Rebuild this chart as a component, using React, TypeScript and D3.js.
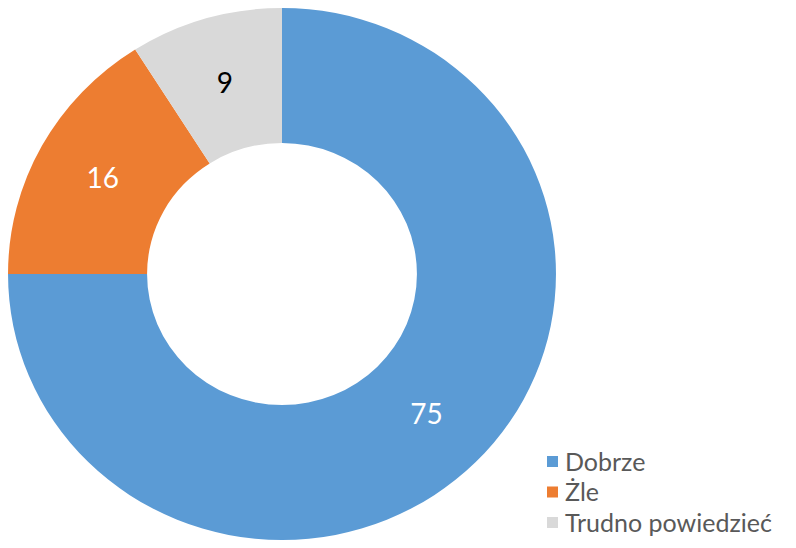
import React, {useEffect, useRef} from 'react';
import * as d3 from 'd3';

// chart data
const categories = ['Dobrze', 'Żle', 'Trudno powiedzieć'];
const values = [75, 16, 9];
const colors = ['#5B9BD5', '#ED7D31', '#D9D9D9'];
const labelColors = ['#ffffff', '#ffffff', '#000000'];

const WIDTH = 796;
const HEIGHT = 548;

export default function App() {
  const svgRef = useRef<SVGSVGElement>(null);

  useEffect(() => {
    if (!svgRef.current) return;
    const svg = d3.select(svgRef.current);
    svg.selectAll('*').remove();

    const cx = 282;
    const cy = 274;
    const outer = 266;
    const inner = 131;
    const sx = 1.03; // the original is slightly stretched horizontally

    const data = categories.map((name, i) => ({name, value: values[i], i}));
    const pie = d3
      .pie<any>()
      .sort(null)
      .value((d) => d.value);
    const arcs = pie(data);
    const arc = d3.arc<any>().innerRadius(inner).outerRadius(outer);

    svg
      .append('g')
      .attr('transform', `translate(${cx},${cy}) scale(${sx},1)`)
      .selectAll('path')
      .data(arcs)
      .join('path')
      .attr('d', arc)
      .attr('fill', (d) => colors[d.data.i]);

    svg
      .append('g')
      .selectAll('text')
      .data(arcs)
      .join('text')
      .attr('x', (d) => cx + arc.centroid(d)[0] * sx)
      .attr('y', (d) => cy + arc.centroid(d)[1])
      .attr('dy', '0.35em')
      .attr('text-anchor', 'middle')
      .style('font-family', 'Lato, "Open Sans", sans-serif')
      .style('font-size', '28px')
      .attr('fill', (d) => labelColors[d.data.i])
      .text((d) => d.data.value);

    const legend = svg
      .append('g')
      .selectAll('g')
      .data(data)
      .join('g')
      .attr('transform', (d) => `translate(547,${462 + d.i * 30.5})`);

    legend
      .append('rect')
      .attr('x', 0)
      .attr('y', -6)
      .attr('width', 11)
      .attr('height', 11)
      .attr('fill', (d) => colors[d.i]);

    legend
      .append('text')
      .attr('x', 18)
      .attr('dy', '0.35em')
      .style('font-family', 'Lato, "Open Sans", sans-serif')
      .style('font-size', '25px')
      .attr('fill', '#595959')
      .text((d) => d.name);
  }, []);

  return (
    <svg
      ref={svgRef}
      width={WIDTH}
      height={HEIGHT}
      style={{position: 'absolute', left: 0, top: 0, background: 'white'}}
    />
  );
}
